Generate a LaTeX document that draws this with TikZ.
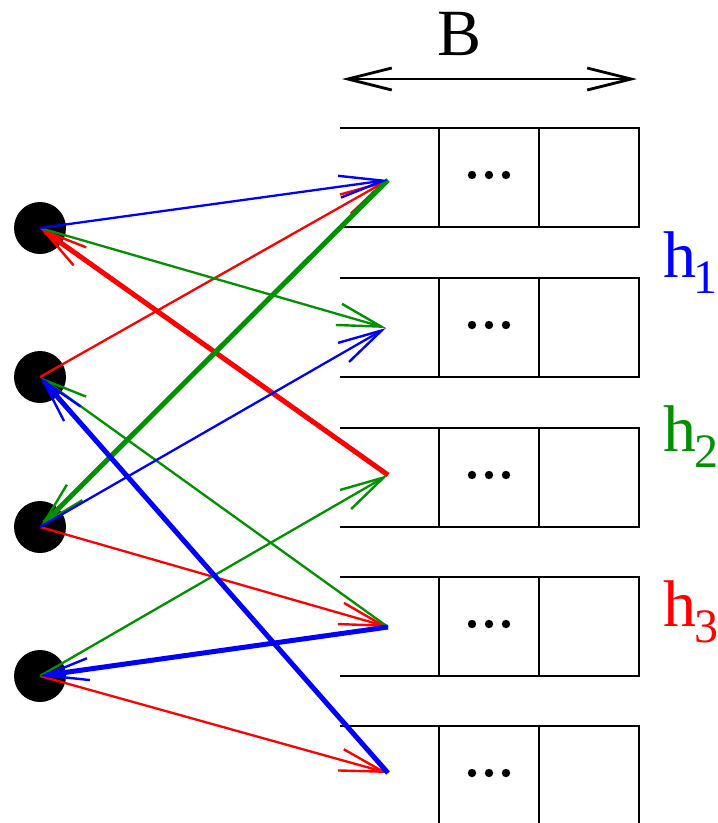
\documentclass[tikz,border=0pt]{standalone}
\usepackage{fontspec}
\setmainfont{Liberation Serif}
\usetikzlibrary{arrows.meta}
\definecolor{hblue}{RGB}{0,0,255}
\definecolor{hgreen}{RGB}{0,144,0}
\definecolor{hred}{RGB}{255,0,0}
\begin{document}
\begin{tikzpicture}[x=1pt,y=-1pt,
  dot/.style={circle,fill=black,minimum size=52pt,inner sep=0pt},
  boxline/.style={line width=2.8pt,black},
  tip/.style={-{Straight Barb[length=44pt,width=22pt,line width'=2.4pt]}},
  thinarr/.style={line width=2.3pt,tip},
  thickarr/.style={line width=5pt,tip},
  lab/.style={font=\fontsize{66}{66}\selectfont, inner sep=0pt, anchor=base west},
  sub/.style={font=\fontsize{48}{48}\selectfont, inner sep=0pt, anchor=base west},
  ell/.style={fill=black}]
\useasboundingbox (0,0) rectangle (718,823);

% width arrow and B
\node[font=\fontsize{66}{66}\selectfont, inner sep=0pt, anchor=base] (B) at (460,55) {B};
\coordinate (bl) at (342,79);
\coordinate (br) at (637,79);
\draw[line width=2.8pt,{Straight Barb[length=44pt,width=22pt]}-{Straight Barb[length=44pt,width=22pt]}] (bl) -- (br);

% rows of slots
\foreach \t/\n in {128/1,278/2,428/3,577/4} {
  \draw[boxline] (340,\t) -- (639,\t) -- (639,\t+99) -- (340,\t+99);
  \draw[boxline] (439,\t) -- (439,\t+99);
  \draw[boxline] (539,\t) -- (539,\t+99);
  \foreach \x in {472,489,506} \fill[ell] (\x,\t+47) circle (4.2);
}
\draw[boxline] (340,726) -- (639,726) -- (639,830);
\draw[boxline] (439,726) -- (439,830);
\draw[boxline] (539,726) -- (539,830);
\foreach \x in {472,489,506} \fill[ell] (\x,773) circle (4.2);

% labels
\node[lab,text=hblue] (h1) at (663,277) {h};
\node[sub,text=hblue] (h1s) at (693,293) {1};
\node[lab,text=hgreen] (h2) at (663,451) {h};
\node[sub,text=hgreen] (h2s) at (694,467) {2};
\node[lab,text=hred] (h3) at (663,626) {h};
\node[sub,text=hred] (h3s) at (694,642) {3};

% dots and slot points
\node[dot] (d1) at (40,228) {};
\node[dot] (d2) at (40,377) {};
\node[dot] (d3) at (40,527) {};
\node[dot] (d4) at (40,676) {};
\coordinate (s1) at (388,180);
\coordinate (s2) at (386,328);
\coordinate (s3) at (388,475);
\coordinate (s4) at (388,627);
\coordinate (s5) at (388,773);

% red (h3)
\draw[thinarr,hred] (d2.center) -- (s1);
\draw[thinarr,hred] (d3.center) -- (s4);
\draw[thinarr,hred] (d4.center) -- (s5);
\draw[thickarr,hred] (s3) -- (d1.center);
% green (h2)
\draw[thinarr,hgreen] (d1.center) -- (s2);
\draw[thinarr,hgreen] (s4) -- (d2.center);
\draw[thinarr,hgreen] (d4.center) -- (s3);
\draw[thickarr,hgreen] (s1) -- (d3.center);
% blue (h1)
\draw[thinarr,hblue] (d1.center) -- (s1);
\draw[thinarr,hblue] (d3.center) -- (s2);
\draw[thickarr,hblue] (s5) -- (d2.center);
\draw[thickarr,hblue] (s4) -- (d4.center);
\end{tikzpicture}
\end{document}
